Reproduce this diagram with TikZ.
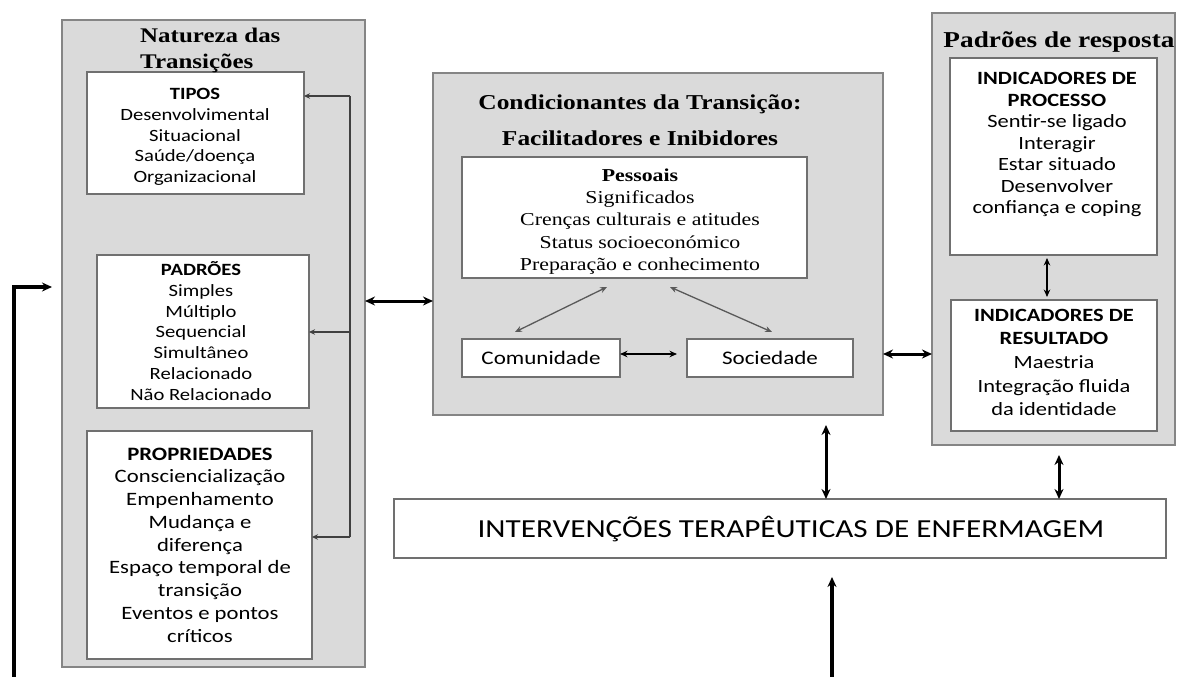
\documentclass[tikz,border=0pt]{standalone}
\usepackage{fontspec}
\setmainfont{Liberation Serif}
\newfontfamily\calfont[FakeStretch=1.2]{Carlito}
\newfontfamily\tmsfont[FakeStretch=1.2]{Liberation Serif}
\usetikzlibrary{arrows.meta,calc}
\definecolor{boxgray}{HTML}{DADADA}
\definecolor{edgegray}{HTML}{858585}
\definecolor{inedge}{HTML}{707070}
\begin{document}
\begin{tikzpicture}[x=1pt,y=-1pt,
  frame/.style={draw=edgegray, line width=2.2pt, fill=boxgray, anchor=north west, inner sep=0pt, outer sep=0pt},
  inbox/.style={draw=inedge, line width=1.8pt, fill=white, anchor=north west, inner sep=0pt, outer sep=0pt},
  txt/.style={align=center, inner sep=0pt, text=black},
  bus/.style={line width=1.8pt, draw=black!75},
  busarr/.style={line width=1.8pt, draw=black!75, -{Stealth[length=6pt,width=5.5pt]}},
  dbl/.style={line width=3pt, draw=black, {Stealth[length=10pt,width=9pt]}-{Stealth[length=10pt,width=9pt]}},
  thindbl/.style={line width=1.3pt, draw=black!65, {Stealth[length=7pt,width=6pt]}-{Stealth[length=7pt,width=6pt]}},
  middbl/.style={line width=1.8pt, draw=black, {Stealth[length=7.5pt,width=6.5pt]}-{Stealth[length=7.5pt,width=6.5pt]}},
  bigarr/.style={line width=3.2pt, draw=black, -{Stealth[length=10pt,width=9pt]}}]
\fill[white] (0,0) rectangle (1179,677);
\useasboundingbox (0,0) rectangle (1179,677);

% outer frames
\node[frame, minimum width=303pt, minimum height=647pt] (nat) at (62,20) {};
\node[frame, minimum width=450pt, minimum height=342pt] (cond) at (433,73) {};
\node[frame, minimum width=243pt, minimum height=432pt] (resp) at (932,13) {};

% inner boxes
\node[inbox, minimum width=217pt, minimum height=122pt] (tipos) at (87,72) {};
\node[inbox, minimum width=212pt, minimum height=153pt] (padroes) at (97,255) {};
\node[inbox, minimum width=225pt, minimum height=228pt] (props) at (87,431) {};
\node[inbox, minimum width=345pt, minimum height=121pt] (pess) at (462,157) {};
\node[inbox, minimum width=158pt, minimum height=38pt, font=\calfont\fontsize{19.2}{23}\selectfont] (comu) at (462,339) {Comunidade};
\node[inbox, minimum width=166pt, minimum height=38pt, font=\calfont\fontsize{19.2}{23}\selectfont] (soc) at (687,339) {Sociedade};
\node[inbox, minimum width=207pt, minimum height=197pt] (proc) at (950,58) {};
\node[inbox, minimum width=206pt, minimum height=131pt] (res) at (951,300) {};
\node[inbox, minimum width=772pt, minimum height=59pt] (interv) at (394,499) {};

% titles
\node[txt, align=left, anchor=west, font=\tmsfont\bfseries\fontsize{20.8}{26}\selectfont] (natT) at (140,50) {Natureza das\\Transições};
\node[txt, font=\tmsfont\bfseries\fontsize{21.2}{36}\selectfont] (condT) at (640,120) {Condicionantes da Transição:\\Facilitadores e Inibidores};
\node[txt, anchor=base, font=\tmsfont\bfseries\fontsize{22.7}{26}\selectfont] (respT) at (1059,48) {Padrões de resposta};

% box texts
\node[txt, font=\calfont\fontsize{17.2}{20.75}\selectfont] (tiposT) at (195,137) {{\bfseries TIPOS}\\Desenvolvimental\\Situacional\\Saúde/doença\\Organizacional};
\node[txt, font=\calfont\fontsize{17.2}{20.8}\selectfont] (padroesT) at (201,331) {{\bfseries PADRÕES}\\Simples\\Múltiplo\\Sequencial\\Simultâneo\\Relacionado\\Não Relacionado};
\node[txt, font=\calfont\fontsize{18.9}{22.75}\selectfont] (propsT) at (200,545) {{\bfseries PROPRIEDADES}\\Consciencialização\\Empenhamento\\Mudança e\\diferença\\Espaço temporal de\\transição\\Eventos e pontos\\críticos};
\node[txt, font=\tmsfont\fontsize{18.2}{22.25}\selectfont] (pessT) at (640,221.5) {{\bfseries Pessoais}\\Significados\\Crenças culturais e atitudes\\Status socioeconómico\\Preparação e conhecimento};
\node[txt, font=\calfont\fontsize{18.7}{21.5}\selectfont] (procT) at (1057,144.5) {{\bfseries INDICADORES DE}\\{\bfseries PROCESSO}\\Sentir-se ligado\\Interagir\\Estar situado\\Desenvolver\\confiança e coping};
\node[txt, font=\calfont\fontsize{18.7}{23.7}\selectfont] (resT) at (1054,362.5) {{\bfseries INDICADORES DE}\\{\bfseries RESULTADO}\\Maestria\\Integração fluida\\da identidade};
\node[txt, font=\calfont\fontsize{26}{30}\selectfont] (intervT) at (791,529) {INTERVENÇÕES TERAPÊUTICAS DE ENFERMAGEM};

% bus connector inside Natureza
\coordinate (b1) at (350,96);
\coordinate (b2) at (350,332);
\coordinate (b3) at (350,537);
\draw[bus] (b1) -- (b3);
\draw[busarr] (b1) -- (b1 -| tipos.east);
\draw[busarr] (b2) -- (b2 -| padroes.east);
\draw[busarr] (b3) -- (b3 -| props.east);

% inter-frame arrows
\coordinate (lvl1) at (0,301);
\coordinate (lvl2) at (0,354);
\draw[dbl] (nat.east |- lvl1) -- (cond.west |- lvl1);
\draw[dbl] (cond.east |- lvl2) -- (resp.west |- lvl2);

% inside Condicionantes
\draw[thindbl] ([xshift=-27.5pt,yshift=-9pt]pess.south) -- ([xshift=-26pt,yshift=7pt]comu.north);
\draw[thindbl] ([xshift=35.5pt,yshift=-9pt]pess.south) -- ([xshift=2pt,yshift=7pt]soc.north);
\draw[middbl] ([yshift=4pt]comu.east) -- ([xshift=-10pt,yshift=4pt]soc.west);

% inside Padroes de resposta
\draw[middbl] ([xshift=-6.5pt,yshift=-3pt]proc.south) -- ([xshift=-7pt,yshift=3pt]res.north);

% to interventions
\coordinate (v1) at (826,0);
\coordinate (v2) at (1059,0);
\draw[dbl] ($(cond.south -| v1)+(0,10)$) -- (interv.north -| v1);
\draw[dbl] ($(resp.south -| v2)+(0,10)$) -- (interv.north -| v2);
\coordinate (v3) at (832,677);
\draw[bigarr] (v3) -- ($(v3 |- interv.south)+(0,19)$);

% left feedback arrow
\coordinate (l0) at (14,677);
\coordinate (l1) at (0,287);
\draw[bigarr] (l0) |- ($(nat.west |- l1)+(-10,0)$);
\end{tikzpicture}
\end{document}
